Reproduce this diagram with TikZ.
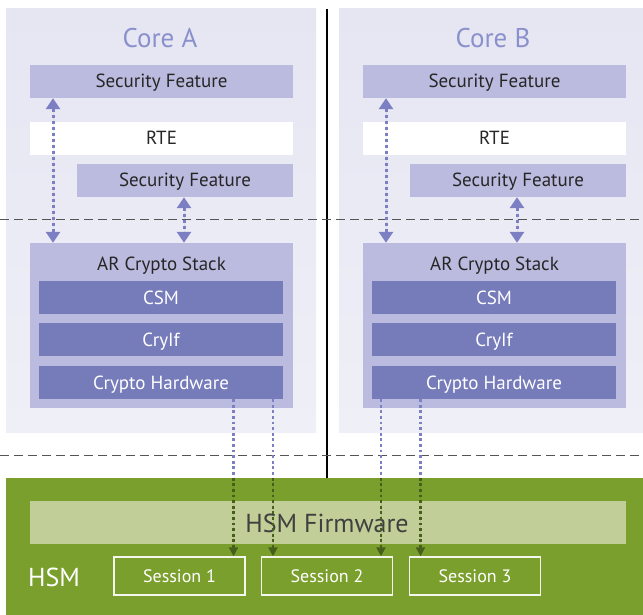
\documentclass[tikz,border=0pt]{standalone}
\usepackage{fontspec}
\setmainfont{PT Sans}
\usetikzlibrary{arrows.meta,calc}
\definecolor{panelTop}{HTML}{E6E6F3}
\definecolor{panelBot}{HTML}{EFEFF7}
\definecolor{lightbox}{HTML}{BBBBDF}
\definecolor{darkbox}{HTML}{767BBA}
\definecolor{arrowc}{HTML}{7C80C2}
\definecolor{titlec}{HTML}{8A90CC}
\definecolor{hsmgreen}{HTML}{7A9F2C}
\definecolor{fwgreen}{HTML}{C2CE97}
\definecolor{darkgreen}{HTML}{46601C}
\definecolor{dashc}{HTML}{555555}
\tikzset{
  boxfont/.style={font=\fontsize{19}{22}\selectfont, text height=13pt, text depth=0pt},
  panel/.style={inner sep=0pt, top color=panelTop, bottom color=panelBot, draw=none},
  lbox/.style={fill=lightbox, inner sep=0pt, minimum height=33pt, boxfont, text=black!85},
  wbox/.style={fill=white, inner sep=0pt, minimum height=33pt, boxfont, text=black!85},
  dbox/.style={fill=darkbox, inner sep=0pt, minimum width=244pt, minimum height=33pt, boxfont, text=white},
  title/.style={font=\fontsize{27}{30}\selectfont, text=titlec},
  biarrow/.style={draw=arrowc, line width=3pt, dash pattern=on 3pt off 3pt, {Triangle[width=14pt,length=11pt]}-{Triangle[width=14pt,length=11pt]}, fill=arrowc},
  downline/.style={draw=arrowc, line width=2.8pt, dash pattern=on 2.8pt off 2.8pt},
  downgreen/.style={draw=darkgreen, line width=2.8pt, dash pattern=on 2.8pt off 2.8pt, -{Triangle[width=9pt,length=9pt]}, fill=darkgreen},
  sepline/.style={draw=dashc, line width=1pt, dash pattern=on 9pt off 5pt},
  sess/.style={draw=white!92!hsmgreen, line width=1.5pt, inner sep=0pt, minimum width=131pt, minimum height=38pt, font=\fontsize{18}{21}\selectfont, text height=13pt, text depth=0pt, text=white},
}
\begin{document}
\begin{tikzpicture}[x=1pt,y=-1pt]
\useasboundingbox (0,0) rectangle (643,615);
\fill[white] (0,0) rectangle (643,615);
% panels
\node[panel, minimum width=310pt, minimum height=423pt] (coreA) at (161,220.5) {};
\node[panel, minimum width=304pt, minimum height=423pt] (coreB) at (491,220.5) {};
\node[title] (titleA) at (160,38) {Core A};
\node[title] (titleB) at (493,38) {Core B};
% HSM
\node[fill=hsmgreen, inner sep=0pt, minimum width=637pt, minimum height=137pt] (hsm) at (324.5,546.5) {};
\node[fill=fwgreen, inner sep=0pt, minimum width=596pt, minimum height=43pt] (fw) at (328,522.5) {};
\node[font=\fontsize{26}{30}\selectfont, text=black!75] (fwlabel) at (327,523) {HSM Firmware};
\node[font=\fontsize{26}{30}\selectfont, text=white] (hsmlabel) at (54,577) {HSM};
\node[sess] (s1) at (179.5,576) {Session 1};
\node[sess] (s2) at (327,576) {Session 2};
\node[sess] (s3) at (475,576) {Session 3};
% separators
\coordinate (vtop) at (327,9);
\draw[black, line width=1.3pt] (vtop) -- (vtop |- hsm.north);
\coordinate (dl1) at (0,219);
\coordinate (dr1) at (643,219);
\coordinate (dl2) at (0,455);
\coordinate (dr2) at (643,455);
\draw[sepline] (dl1) -- (dr1);
\draw[sepline] (dl2) -- (dr2);
% Core contents
\foreach \c/\dx in {A/0,B/333}{
  \begin{scope}[xshift=\dx pt]
  \node[lbox, minimum width=263pt] (sf1\c) at (161.5,81.5) {Security Feature};
  \node[wbox, minimum width=263pt] (rte\c) at (161.5,138.5) {RTE};
  \node[lbox, minimum width=216pt] (sf2\c) at (185,180.5) {Security Feature};
  \node[fill=lightbox, inner sep=0pt, minimum width=263pt, minimum height=165pt] (arcs\c) at (161.5,325.5) {};
  \node[boxfont, text=black!85] (arcsl\c) at (161.5,264) {AR Crypto Stack};
  \node[dbox] (csm\c) at (161,297.5) {CSM};
  \node[dbox] (cryif\c) at (161,339.5) {CryIf};
  \node[dbox] (ch\c) at (161,382.5) {Crypto Hardware};
  \coordinate (xa\c) at (53,0);
  \coordinate (xb\c) at (184,0);
  \end{scope}
  \draw[biarrow] (sf1\c.south -| xa\c) -- (arcs\c.north -| xa\c);
  \draw[biarrow] (sf2\c.south -| xb\c) -- (arcs\c.north -| xb\c);
}
% down lines
\coordinate (d1) at (233.5,0);
\coordinate (d2) at (273,0);
\coordinate (d3) at (381,0);
\coordinate (d4) at (420.5,0);
\draw[downline] (chA.south -| d1) -- (hsm.north -| d1);
\draw[downline] (chA.south -| d2) -- (hsm.north -| d2);
\draw[downline] (chB.south -| d3) -- (hsm.north -| d3);
\draw[downline] (chB.south -| d4) -- (hsm.north -| d4);
\draw[downgreen] (hsm.north -| d1) -- (s1.north -| d1);
\draw[downgreen] (hsm.north -| d2) -- (s2.north -| d2);
\draw[downgreen] (hsm.north -| d3) -- (s2.north -| d3);
\draw[downgreen] (hsm.north -| d4) -- (s3.north -| d4);
\end{tikzpicture}
\end{document}
